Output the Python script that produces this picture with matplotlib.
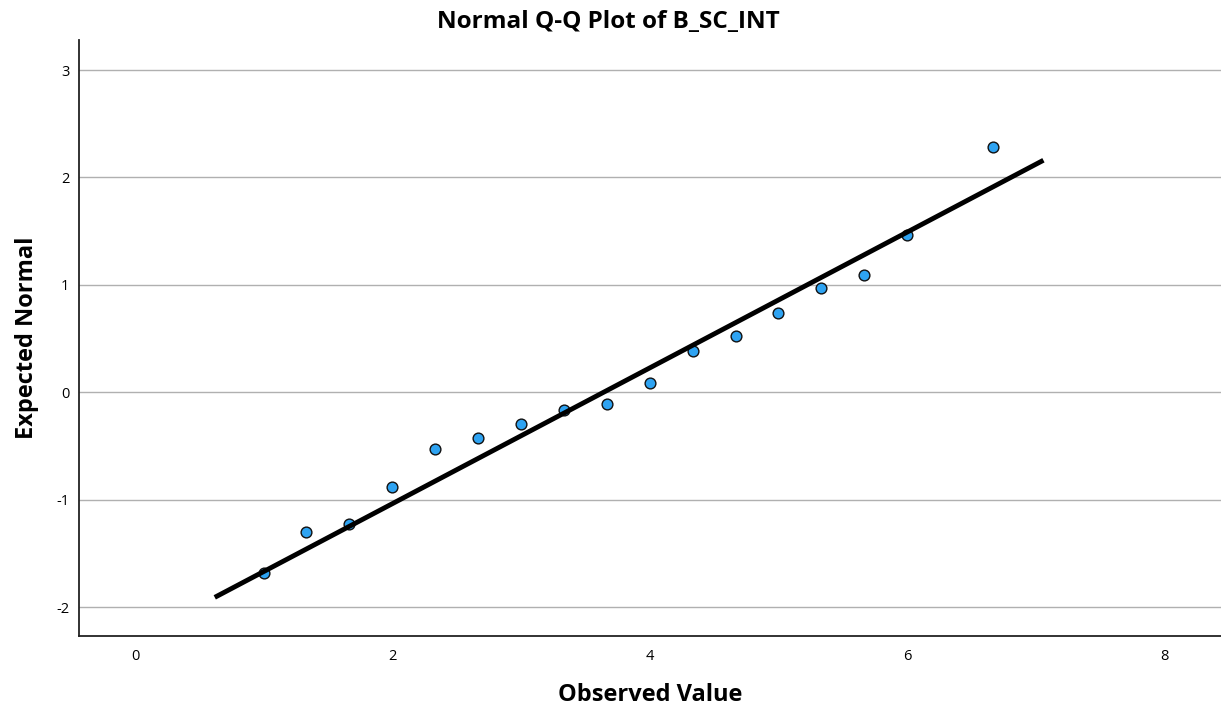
import matplotlib
matplotlib.use("Agg")
import matplotlib.pyplot as plt

plt.rcParams['font.family'] = ['Open Sans', 'DejaVu Sans']
plt.rcParams['axes.unicode_minus'] = False

observed = [1.0, 1.333, 1.667, 2.0, 2.333, 2.667, 3.0, 3.333, 3.667, 4.0,
            4.333, 4.667, 5.0, 5.333, 5.667, 6.0, 6.667]
expected = [-1.68, -1.30, -1.23, -0.88, -0.53, -0.43, -0.30, -0.17, -0.11, 0.09,
            0.38, 0.52, 0.74, 0.97, 1.09, 1.46, 2.28]
line_x = [0.62, 7.06]
line_y = [-1.91, 2.16]
xticks = [0, 2, 4, 6, 8]
yticks = [-2, -1, 0, 1, 2, 3]

fig = plt.figure(figsize=(12.21, 7.10), dpi=100)
ax = fig.add_axes([0.0647, 0.1042, 0.9353, 0.8395])
ax.set_xlim(-0.435, 8.44)
ax.set_ylim(-2.27, 3.28)
ax.set_yticks(yticks)
ax.set_xticks(xticks)
ax.grid(axis='y', color='#b0b0b0', linewidth=1.0)
ax.set_axisbelow(True)
ax.scatter(observed, expected, s=60, color='#2ea3f2', edgecolor='#111111',
           linewidth=1.0, zorder=3)
ax.plot(line_x, line_y, color='black', linewidth=3.5, zorder=4,
        solid_capstyle='butt')
for s in ['top', 'right']:
    ax.spines[s].set_visible(False)
for s in ['left', 'bottom']:
    ax.spines[s].set_linewidth(1.3)
    ax.spines[s].set_color('#222222')
ax.tick_params(axis='y', length=0, labelsize=10.5, pad=7)
ax.tick_params(axis='x', length=0, labelsize=10.5, pad=9)
fig.suptitle('Normal Q-Q Plot of B_SC_INT', fontsize=17.5, fontweight='bold',
             x=0.498, y=0.969, va='center')
ax.set_xlabel('Observed Value', fontsize=17, fontweight='bold', labelpad=14)
ax.set_ylabel('Expected Normal', fontsize=17, fontweight='bold', labelpad=12)
fig.savefig('out.png', dpi=100)
